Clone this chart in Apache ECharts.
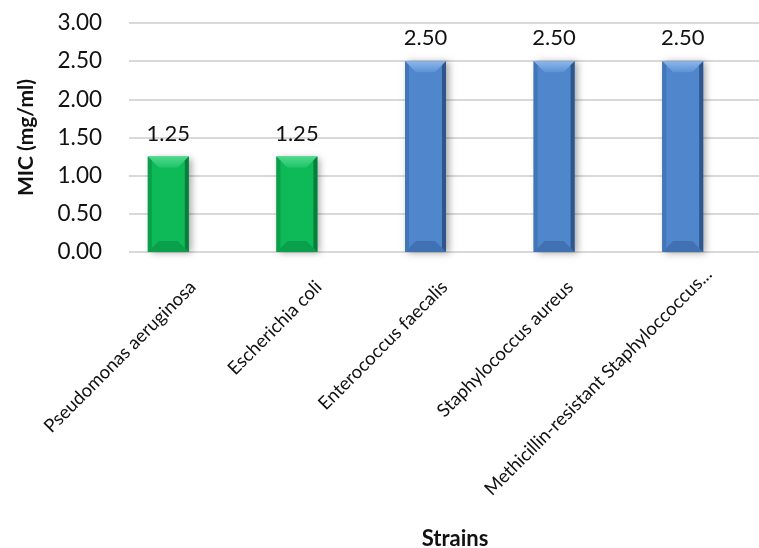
<!DOCTYPE html>
<html>
<head>
<meta charset="utf-8">
<script src="https://cdn.jsdelivr.net/npm/echarts@6/dist/echarts.min.js"></script>
<style>
html,body{margin:0;padding:0;background:#fff;}
#chart{width:759px;height:548px;}
</style>
</head>
<body>
<div id="chart"></div>
<script>
const categories = ['Pseudomonas aeruginosa', 'Escherichia coli', 'Enterococcus faecalis', 'Staphylococcus aureus', 'Methicillin-resistant Staphyloccoccus...'];
const micValues = [1.25, 1.25, 2.50, 2.50, 2.50];
const barGroup = ['green', 'green', 'blue', 'blue', 'blue'];
const yTicks = [0, 0.5, 1, 1.5, 2, 2.5, 3];

const palette = {
  green: {main:'#0EBA58', top:'#4FD98C', topInner:'#1EC567', bottom:'#0A9A49', left:'#0B9F4C', right:'#087E3C'},
  blue:  {main:'#4F86CC', top:'#8DB7EA', topInner:'#5C92D6', bottom:'#3C6CAB', left:'#4276B8', right:'#2E568C'}
};

const FONT = 'Lato';
const chart = echarts.init(document.getElementById('chart'), null, {renderer:'canvas'});

function renderBar(params, api) {
  const i = api.value(0), v = api.value(1);
  const topPt = api.coord([i, v]);
  const basePt = api.coord([i, 0]);
  const w = 41, b = 11, e = 4;
  const cx = topPt[0];
  const x0 = cx - w/2, x1 = cx + w/2, y0 = topPt[1], y1 = basePt[1];
  const c = palette[barGroup[i]];
  return {
    type: 'group',
    children: [
      {type:'rect', shape:{x:x0, y:y0, width:w, height:y1-y0},
       style:{fill:c.main, shadowBlur:7, shadowColor:'rgba(0,0,0,0.35)', shadowOffsetX:3, shadowOffsetY:1}},
      {type:'polygon', shape:{points:[[x0,y0],[x1,y0],[x1-b,y0+b],[x0+b,y0+b]]},
       style:{fill:new echarts.graphic.LinearGradient(0,0,0,1,[{offset:0,color:c.top},{offset:1,color:c.topInner}])}},
      {type:'polygon', shape:{points:[[x0,y1],[x1,y1],[x1-b,y1-b],[x0+b,y1-b]]},
       style:{fill:c.bottom, opacity:0.8}},
      {type:'polygon', shape:{points:[[x0,y0],[x0+e,y0+e],[x0+e,y1-e],[x0,y1]]},
       style:{fill:c.left}},
      {type:'polygon', shape:{points:[[x1,y0],[x1-e,y0+e],[x1-e,y1-e],[x1,y1]]},
       style:{fill:c.right}},
      {type:'text', x:cx, y:y0-12,
       style:{text:v.toFixed(2), fill:'#111', font:'22px ' + FONT, textAlign:'center', textVerticalAlign:'bottom'}}
    ]
  };
}

const labelCategories = categories.map(function(name, i){
  return i === categories.length - 1 ? {value:name, textStyle:{padding:[46, -18, 0, 0]}} : name;
});

const option = {
  backgroundColor:'#fff',
  animation:false,
  title:{text:'Strains', left:450, top:523, textAlign:'center',
         textStyle:{fontFamily:FONT, fontWeight:'bold', fontSize:22, color:'#111'}},
  grid:[
    {left:104, top:23, width:643, height:229},
    {left:129, top:23, right:0, height:229},
    {left:130, top:23, width:643, height:229}
  ],
  xAxis:[
    {type:'category', gridIndex:0, data:categories, axisLine:{show:false}, axisTick:{show:false}, axisLabel:{show:false}},
    {type:'category', gridIndex:1, data:categories, show:false},
    {type:'category', gridIndex:2, data:labelCategories, axisLine:{show:false}, axisTick:{show:false},
     axisLabel:{show:true, interval:0, rotate:45, margin:32, fontFamily:FONT, fontSize:18.5, color:'#111'}}
  ],
  yAxis:[
    {type:'value', gridIndex:0, min:0, max:3, interval:0.5, show:false},
    {type:'value', gridIndex:1, min:0, max:3, interval:0.5,
     axisLine:{show:false}, axisTick:{show:false},
     splitLine:{show:true, lineStyle:{color:'#D9D9D9', width:2}},
     axisLabel:{margin:27, fontFamily:FONT, fontSize:22.5, color:'#111',
                formatter:function(val){return yTicks.indexOf(val) >= 0 ? val.toFixed(2) : '';}},
     name:'MIC (mg/ml)', nameLocation:'middle', nameRotate:90, nameGap:92,
     nameTextStyle:{fontFamily:FONT, fontWeight:'bold', fontSize:21, color:'#111'}},
    {type:'value', gridIndex:2, min:0, max:3, interval:0.5, show:false, splitLine:{show:false}}
  ],
  series:[
    {type:'custom', xAxisIndex:0, yAxisIndex:0, renderItem:renderBar,
     data:micValues.map(function(v,i){return [i, v];}), z:5}
  ]
};
chart.setOption(option);
</script>
</body>
</html>
